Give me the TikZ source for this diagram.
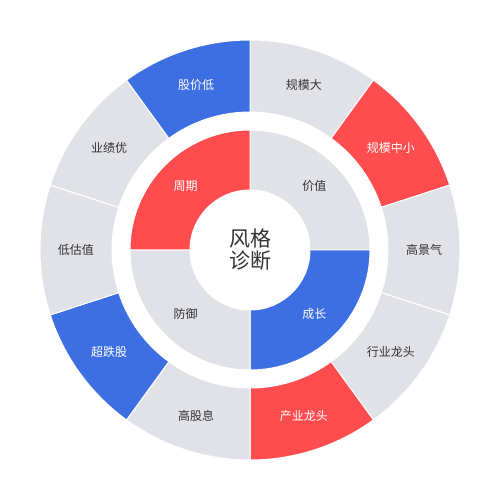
\documentclass[tikz,border=0pt]{standalone}
\usepackage{fontspec}
\setmainfont{Noto Sans CJK SC}
\definecolor{hotred}{RGB}{255,77,79}
\definecolor{coolblue}{RGB}{61,111,226}
\definecolor{cellgray}{RGB}{225,226,231}
\definecolor{inkgray}{RGB}{51,51,51}
\tikzset{
 cell/.style={draw=white,line width=1pt},
 celltext/.style={font=\fontsize{12}{14}\selectfont,inner sep=0pt}
}
\begin{document}
\begin{tikzpicture}[x=1pt,y=1pt]
 \useasboundingbox(-250,-250)rectangle(250,250);
 \fill[white](-250,-250)rectangle(250,250);
 % outer ring: ten cells of 36 degrees, clockwise from 12 o'clock
 \foreach \a/\c/\k/\t/\n in {90/cellgray/inkgray/规模大/scale,
   54/hotred/white/规模中小/small, 18/cellgray/inkgray/高景气/boom,
   -18/cellgray/inkgray/行业龙头/lead, -54/hotred/white/产业龙头/chain,
   -90/cellgray/inkgray/高股息/yield, -126/coolblue/white/超跌股/oversold,
   -162/cellgray/inkgray/低估值/cheap, -198/cellgray/inkgray/业绩优/earn,
   -234/coolblue/white/股价低/lowprice}{
  \filldraw[cell,fill=\c](\a:138)arc[start angle=\a,end angle=\a-36,radius=138]
   --({\a-36}:210)arc[start angle=\a-36,end angle=\a,radius=210]--cycle;
  \node[celltext,text=\k](\n)at({\a-18}:174){\t};
 }
 % inner ring: four quadrants
 \foreach \a/\c/\k/\t/\n in {90/cellgray/inkgray/价值/value,
   0/coolblue/white/成长/growth, -90/cellgray/inkgray/防御/defence,
   180/hotred/white/周期/cycle}{
  \filldraw[cell,fill=\c](\a:60)arc[start angle=\a,end angle=\a-90,radius=60]
   --({\a-90}:120)arc[start angle=\a-90,end angle=\a,radius=120]--cycle;
  \node[celltext,text=\k](\n)at({\a-45}:91){\t};
 }
 \node[font=\fontsize{21}{22}\selectfont,text=inkgray,align=center,inner sep=0pt](title)at(0,0){风格\\诊断};
\end{tikzpicture}
\end{document}
